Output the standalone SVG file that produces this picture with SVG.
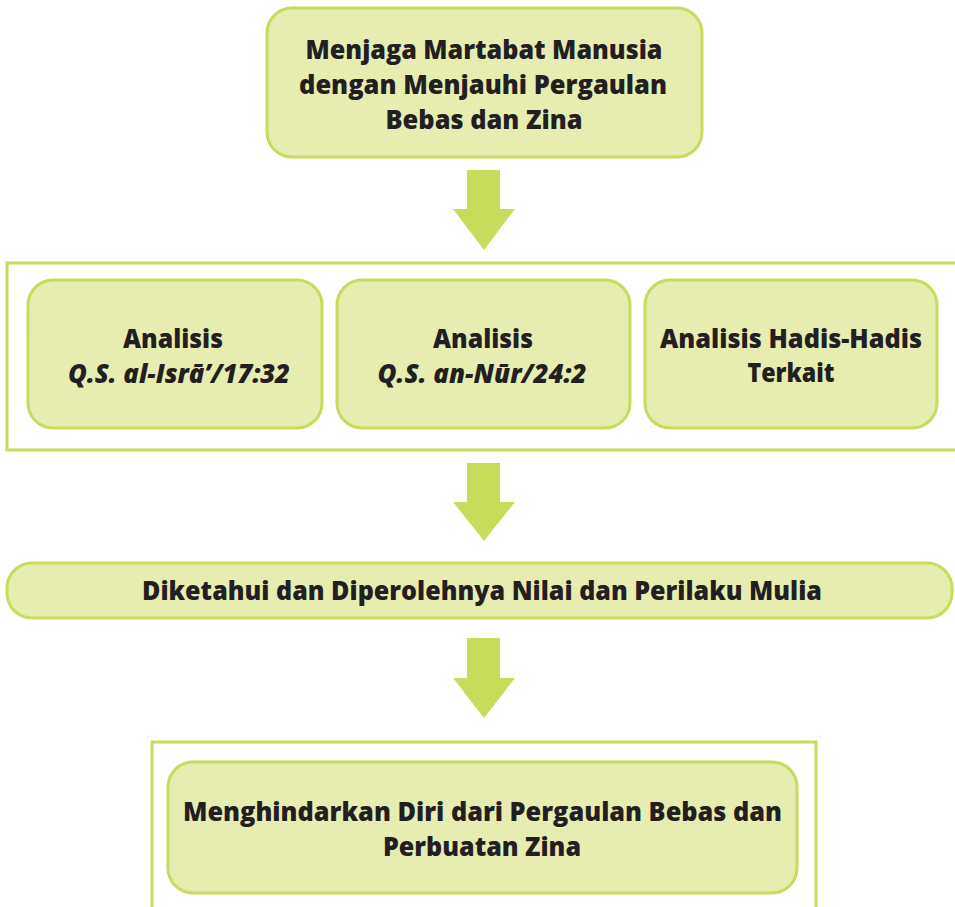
<svg xmlns="http://www.w3.org/2000/svg" width="955" height="907" viewBox="0 0 955 907">
<style>
.box{fill:#e7edb0;stroke:#c6dc5c;stroke-width:3}
.frame{fill:none;stroke:#c6dc5c;stroke-width:3}
.arrow{fill:#c8dc5c}
text{font-family:"Open Sans","Liberation Sans",sans-serif;font-weight:800;font-size:27px;fill:#231f20;text-anchor:middle}
.it{font-style:italic}
</style>
<rect width="955" height="907" fill="#ffffff"/>
<g id="frames">
<rect class="frame" x="7" y="263" width="960" height="187"/>
<rect class="frame" x="152" y="742" width="664" height="200"/>
</g>
<g id="connectors">
<polygon class="arrow" points="467,170 500,170 500,209 515,209 484,250 453,209 467,209"/>
<polygon class="arrow" points="467,463 500,463 500,502 515,502 484,541 453,502 467,502"/>
<polygon class="arrow" points="467,638 500,638 500,678 515,678 484,718 453,678 467,678"/>
</g>
<g id="node-top">
<rect class="box" x="267" y="8" width="435" height="149" rx="25"/>
<text x="484" y="59" textLength="357" lengthAdjust="spacingAndGlyphs">Menjaga Martabat Manusia</text>
<text x="483" y="94" textLength="368" lengthAdjust="spacingAndGlyphs">dengan Menjauhi Pergaulan</text>
<text x="484" y="129" textLength="197" lengthAdjust="spacingAndGlyphs">Bebas dan Zina</text>
</g>
<g id="node-isra">
<rect class="box" x="28" y="280" width="294" height="148" rx="25"/>
<text x="173" y="348" textLength="100" lengthAdjust="spacingAndGlyphs">Analisis</text>
<text class="it" x="179" y="383" textLength="222" lengthAdjust="spacingAndGlyphs">Q.S. al-Isrā’/17:32</text>
</g>
<g id="node-nur">
<rect class="box" x="337" y="280" width="293" height="148" rx="25"/>
<text x="483" y="348" textLength="100" lengthAdjust="spacingAndGlyphs">Analisis</text>
<text class="it" x="482" y="383" textLength="209" lengthAdjust="spacingAndGlyphs">Q.S. an-Nūr/24:2</text>
</g>
<g id="node-hadis">
<rect class="box" x="645" y="280" width="292" height="148" rx="25"/>
<text x="791" y="348" textLength="262" lengthAdjust="spacingAndGlyphs">Analisis Hadis-Hadis</text>
<text x="791" y="382" textLength="87" lengthAdjust="spacingAndGlyphs">Terkait</text>
</g>
<g id="node-nilai">
<rect class="box" x="7" y="563" width="945" height="55" rx="25"/>
<text x="482" y="600" textLength="680" lengthAdjust="spacingAndGlyphs">Diketahui dan Diperolehnya Nilai dan Perilaku Mulia</text>
</g>
<g id="node-hindar">
<rect class="box" x="168" y="762" width="629" height="131" rx="25"/>
<text x="482.5" y="821" textLength="599" lengthAdjust="spacingAndGlyphs">Menghindarkan Diri dari Pergaulan Bebas dan</text>
<text x="482" y="856" textLength="198" lengthAdjust="spacingAndGlyphs">Perbuatan Zina</text>
</g>
</svg>
